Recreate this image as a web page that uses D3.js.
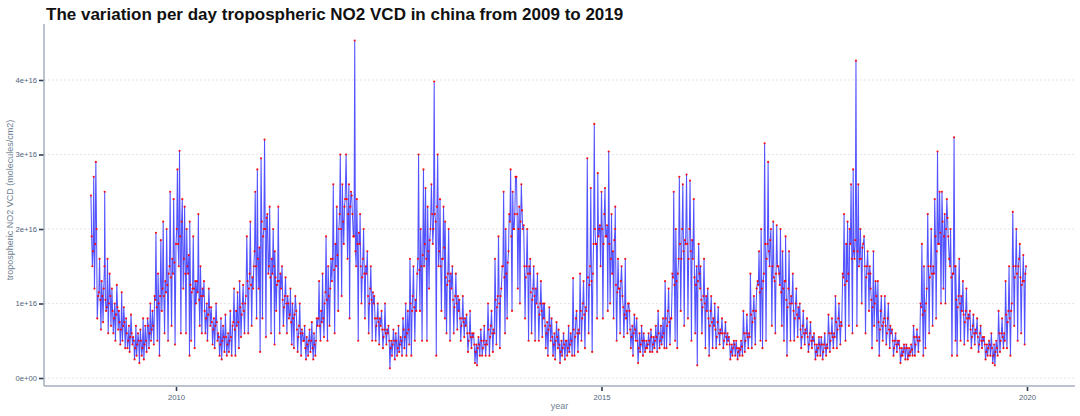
<!DOCTYPE html>
<html>
<head>
<meta charset="utf-8">
<script src="https://cdn.jsdelivr.net/npm/d3@7"></script>
<style>
  html, body { margin: 0; padding: 0; background: #ffffff; }
  svg { display: block; }
</style>
</head>
<body>
<svg id="chart" width="1080" height="416"></svg>
<script>
// ---- data (values in units of 1e16 molecules/cm2, ten readings per month) ----
const years = [2009, 2010, 2011, 2012, 2013, 2014, 2015, 2016, 2017, 2018, 2019];
const unit = 1e16;
const no2_2009 = [
  2.45,1.9,1.5,1.7,2.7,1.2,1.8,2.9,2.0,0.8,  1.1,1.15,1.6,1.05,0.65,1.3,1.1,0.75,1.2,1.5,
  2.5,1.05,0.9,0.95,1.6,0.6,1.0,1.4,1.1,0.7,  1.2,0.9,0.6,0.8,1.0,0.5,0.85,1.25,0.95,0.65,
  0.9,0.75,0.45,0.65,1.15,0.5,0.7,0.95,0.75,0.4,  0.8,0.6,0.4,0.5,0.7,0.35,0.55,0.85,0.6,0.45,
  0.55,0.5,0.25,0.4,0.7,0.3,0.45,0.6,0.5,0.2,  0.65,0.5,0.3,0.4,0.8,0.25,0.45,0.7,0.5,0.35,
  0.8,0.7,0.4,0.6,1.0,0.5,0.65,0.9,0.7,0.45,  1.1,1.05,1.95,0.95,0.5,1.4,1.0,0.3,1.1,1.85,
  0.9,1.2,2.1,1.1,0.6,1.3,1.15,2.0,1.25,0.5,  1.4,1.5,2.5,1.35,0.7,1.6,1.4,2.4,1.55,0.45];
const no2_2010 = [
  1.8,2.0,2.8,1.8,1.5,3.05,1.9,0.6,2.1,2.4,  1.2,1.6,2.3,1.4,0.6,2.0,1.5,1.4,1.65,0.3,
  2.1,1.25,0.5,1.15,1.2,1.9,1.2,0.4,1.3,1.0,  1.3,1.15,2.2,1.05,0.7,1.5,1.1,0.6,1.2,1.1,
  1.3,0.9,0.6,0.8,1.0,0.5,0.85,1.2,0.95,0.7,  0.95,0.75,0.45,0.65,0.8,0.4,0.7,1.0,0.75,0.5,
  0.6,0.55,0.3,0.45,0.8,0.25,0.5,0.7,0.55,0.35,  0.85,0.55,0.3,0.45,0.6,0.35,0.5,0.9,0.55,0.3,
  0.7,0.75,1.2,0.65,0.3,0.9,0.7,1.15,0.75,0.4,  1.3,0.95,0.55,0.85,1.0,1.25,0.9,0.6,1.0,1.1,
  1.9,1.3,0.6,1.2,1.4,2.1,1.25,0.7,1.35,1.2,  1.5,1.7,2.5,1.5,0.8,2.8,1.6,1.2,1.75,0.35];
const no2_2011 = [
  2.95,2.1,0.8,1.9,2.0,3.2,2.0,0.55,2.15,2.2,  1.4,1.5,2.3,1.35,0.6,1.6,1.4,2.0,1.5,0.45,
  1.7,1.35,0.9,1.25,1.3,2.3,1.3,0.6,1.4,1.2,  1.5,1.05,0.7,0.95,1.1,1.35,1.0,0.6,1.1,1.0,
  0.8,0.85,1.2,0.75,0.45,1.0,0.8,0.4,0.85,1.1,  0.9,0.65,0.35,0.55,0.7,1.0,0.6,0.3,0.65,0.6,
  0.5,0.5,0.7,0.4,0.25,0.55,0.45,0.3,0.5,0.65,  0.35,0.5,0.75,0.4,0.25,0.6,0.45,0.3,0.5,0.8,
  0.7,0.8,1.3,0.7,0.5,0.9,0.75,1.4,0.8,0.55,  1.0,1.15,1.9,1.05,0.5,1.5,1.1,0.7,1.2,1.6,
  1.3,1.6,2.6,1.45,0.6,1.8,1.5,2.3,1.65,0.9,  2.0,2.2,3.0,2.0,1.1,2.6,2.1,1.8,2.3,2.4];
const no2_2012 = [
  3.0,2.4,1.6,2.2,2.6,0.8,2.3,2.5,2.45,2.2,  1.9,1.9,4.53,1.7,1.5,2.4,1.8,0.5,1.95,1.8,
  2.2,1.5,1.0,1.35,1.6,2.0,1.4,0.8,1.5,1.4,  1.7,1.1,0.6,1.0,1.2,1.5,1.05,0.5,1.15,1.0,
  1.1,0.8,0.5,0.7,0.8,1.0,0.75,0.45,0.8,0.7,  0.9,0.65,0.4,0.55,0.65,1.0,0.6,0.45,0.65,0.6,
  0.7,0.5,0.13,0.4,0.5,0.3,0.45,0.65,0.5,0.25,  0.6,0.5,0.3,0.4,0.7,0.35,0.45,0.55,0.5,0.3,
  0.8,0.65,0.4,0.55,1.0,0.3,0.6,0.9,0.65,0.45,  1.6,1.0,0.3,0.9,1.1,1.5,0.95,0.5,1.05,0.9,
  1.4,1.6,3.0,1.45,0.9,2.0,1.5,0.5,1.65,2.8,  1.5,1.8,2.55,1.6,0.5,2.3,1.7,1.2,1.85,2.0];
const no2_2013 = [
  2.6,2.2,1.8,2.0,3.98,2.2,2.1,0.3,2.3,3.0,  1.5,1.7,2.4,1.5,0.9,1.6,1.6,2.3,1.75,0.8,
  2.1,1.35,0.6,1.25,1.4,2.0,1.3,0.5,1.4,1.2,  1.5,1.05,0.6,0.95,1.1,1.4,1.0,0.65,1.1,0.9,
  1.05,0.8,0.5,0.7,0.8,1.1,0.75,0.55,0.8,0.7,  0.85,0.6,0.35,0.5,0.6,0.9,0.55,0.4,0.6,0.55,
  0.6,0.45,0.2,0.35,0.45,0.17,0.4,0.55,0.45,0.3,  0.65,0.5,0.3,0.4,0.5,0.7,0.45,0.3,0.5,0.45,
  1.0,0.65,0.3,0.55,0.7,0.9,0.6,0.35,0.65,0.6,  1.6,1.05,0.45,0.95,1.1,1.9,1.0,0.4,1.1,1.2,
  1.5,1.5,2.5,1.35,0.6,2.0,1.4,0.8,1.55,1.7,  2.2,2.1,2.8,1.9,0.9,2.5,2.0,2.0,2.2,2.7];
const no2_2014 = [
  2.7,2.2,1.2,2.0,2.3,1.0,2.1,2.6,2.25,2.0,  2.05,1.5,0.8,1.35,1.5,2.0,1.4,0.5,1.5,1.4,
  1.6,1.15,0.6,1.05,1.2,1.5,1.1,0.5,1.2,1.0,  1.4,0.95,0.5,0.85,1.0,1.3,0.9,0.55,1.0,0.8,
  1.0,0.7,0.4,0.6,0.75,0.3,0.65,0.95,0.7,0.5,  0.8,0.55,0.3,0.45,0.6,0.25,0.5,0.75,0.55,0.4,
  0.65,0.45,0.2,0.35,0.5,0.3,0.4,0.6,0.45,0.25,  0.5,0.5,0.3,0.4,0.7,0.35,0.45,0.6,0.5,0.3,
  1.34,0.65,0.3,0.55,0.8,0.9,0.6,0.35,0.65,0.6,  1.4,0.9,0.5,0.8,1.0,1.3,0.85,0.4,0.95,0.9,
  2.95,1.35,0.6,1.25,1.5,2.55,1.3,0.35,1.4,1.8,  3.41,2.0,1.8,1.8,0.8,2.75,1.9,2.0,2.05,1.5];
const no2_2015 = [
  2.5,2.0,0.8,1.8,2.2,2.55,1.9,1.9,2.05,0.9,  3.04,1.8,1.0,1.6,2.2,1.4,1.7,0.8,1.85,2.0,
  2.3,1.25,0.5,1.15,1.6,1.2,1.2,0.6,1.3,1.5,  1.1,0.95,0.55,0.85,1.6,0.8,0.9,0.6,1.0,1.0,
  0.9,0.65,0.4,0.55,0.7,0.3,0.6,0.85,0.65,0.5,  0.8,0.5,0.2,0.4,0.6,0.35,0.45,0.7,0.5,0.3,
  0.6,0.5,0.35,0.4,0.5,0.4,0.45,0.6,0.5,0.35,  0.65,0.55,0.35,0.45,0.55,0.4,0.5,0.7,0.55,0.35,
  0.9,0.6,0.4,0.5,0.7,0.45,0.55,0.8,0.6,0.4,  1.3,0.8,0.4,0.7,0.9,1.2,0.75,0.45,0.8,0.8,
  1.4,1.35,2.5,1.25,0.5,2.0,1.3,0.4,1.4,1.6,  2.7,1.8,0.9,1.6,2.0,2.6,1.7,0.7,1.85,1.8];
const no2_2016 = [
  2.73,1.8,0.8,1.6,2.0,2.65,1.7,0.5,1.85,1.6,  2.4,1.35,0.6,1.25,1.5,0.17,1.3,1.8,1.4,1.2,
  1.5,1.05,0.6,0.95,1.1,1.6,1.0,0.4,1.1,0.9,  1.2,0.8,0.3,0.7,0.9,1.1,0.75,0.4,0.8,0.7,
  1.0,0.65,0.4,0.55,0.75,0.95,0.6,0.45,0.65,0.6,  0.8,0.6,0.4,0.5,0.6,0.75,0.55,0.45,0.6,0.5,
  0.55,0.45,0.25,0.35,0.45,0.3,0.4,0.5,0.45,0.3,  0.5,0.4,0.25,0.35,0.4,0.3,0.38,0.5,0.42,0.3,
  0.9,0.6,0.35,0.5,0.6,0.85,0.55,0.4,0.6,0.55,  1.4,0.85,0.4,0.75,0.9,1.1,0.8,0.45,0.9,1.2,
  1.3,1.25,1.7,1.15,0.5,2.0,1.2,0.4,1.3,1.4,  3.15,1.8,0.5,1.6,1.8,2.9,1.7,1.5,1.85,2.0];
const no2_2017 = [
  0.7,1.5,2.1,1.35,1.3,0.6,1.4,2.05,1.5,1.5,  1.4,1.25,2.0,1.15,0.7,1.7,1.2,0.5,1.3,1.3,
  1.9,1.05,0.3,0.95,1.2,1.7,1.0,0.5,1.1,1.0,  1.4,0.9,0.5,0.8,1.0,1.2,0.85,0.55,0.95,0.8,
  1.0,0.65,0.4,0.55,0.7,0.9,0.6,0.45,0.65,0.6,  0.8,0.55,0.35,0.45,0.6,0.75,0.5,0.4,0.55,0.5,
  0.6,0.45,0.25,0.35,0.45,0.3,0.4,0.55,0.45,0.3,  0.55,0.45,0.25,0.35,0.45,0.6,0.4,0.3,0.45,0.4,
  0.85,0.6,0.35,0.5,0.6,0.8,0.55,0.4,0.6,0.55,  1.1,0.75,0.4,0.65,0.8,1.0,0.7,0.45,0.75,0.7,
  1.4,1.35,2.2,1.25,0.5,1.8,1.3,2.1,1.4,0.7,  2.0,1.8,2.6,1.6,0.6,2.8,1.7,1.6,1.85,4.26];
const no2_2018 = [
  0.7,1.7,2.6,1.5,1.6,2.0,1.6,1.0,1.75,1.8,  1.9,1.5,0.6,1.35,1.5,1.7,1.4,0.9,1.5,1.4,
  1.2,1.05,0.4,0.95,1.7,0.7,1.0,1.3,1.1,0.5,  1.3,0.75,0.3,0.65,0.9,1.1,0.7,0.5,0.75,0.8,
  1.1,0.7,0.45,0.6,0.8,1.0,0.65,0.4,0.7,0.6,  0.65,0.5,0.3,0.4,0.5,0.6,0.45,0.35,0.5,0.45,
  0.5,0.4,0.2,0.3,0.4,0.3,0.35,0.45,0.4,0.25,  0.45,0.4,0.25,0.3,0.4,0.3,0.35,0.45,0.38,0.3,
  0.7,0.55,0.3,0.45,0.55,0.65,0.5,0.35,0.55,0.5,  1.0,0.95,1.8,0.85,0.3,1.5,0.9,0.4,1.0,1.2,
  2.2,1.5,0.6,1.35,1.5,2.0,1.4,0.7,1.5,1.4,  2.4,1.9,0.8,1.7,3.04,1.8,1.8,2.5,1.95,1.0];
const no2_2019 = [
  2.5,2.1,1.2,1.9,2.2,1.0,2.0,2.4,2.15,1.9,  1.6,1.5,2.0,1.35,0.3,1.4,1.4,3.23,1.5,0.5,
  1.5,1.05,0.3,0.95,1.1,1.6,1.0,0.5,1.1,0.9,  1.3,0.85,0.45,0.75,0.9,1.2,0.8,0.5,0.85,0.8,
  0.9,0.65,0.4,0.55,0.7,0.85,0.6,0.45,0.65,0.6,  0.8,0.55,0.35,0.45,0.6,0.7,0.5,0.4,0.55,0.5,
  0.55,0.45,0.25,0.35,0.45,0.3,0.4,0.5,0.45,0.3,  0.6,0.4,0.2,0.3,0.45,0.17,0.35,0.5,0.4,0.3,
  0.9,0.6,0.35,0.5,0.6,0.8,0.55,0.4,0.6,0.5,  1.3,0.85,0.4,0.75,0.9,1.5,0.8,0.3,0.9,1.0,
  2.23,1.5,0.7,1.35,1.5,2.0,1.4,0.5,1.5,1.6,  1.8,1.35,0.6,1.25,1.3,1.65,1.3,0.45,1.4,1.5];
const yearSeries = [no2_2009, no2_2010, no2_2011, no2_2012, no2_2013, no2_2014,
                    no2_2015, no2_2016, no2_2017, no2_2018, no2_2019];
const readingDays = [1, 4, 7, 10, 13, 16, 19, 22, 25, 28];
const yTickValues = [0, 1e16, 2e16, 3e16, 4e16];
const yTickLabels = ["0e+00", "1e+16", "2e+16", "3e+16", "4e+16"];
const xTickYears = [2010, 2015, 2020];
const titleText = "The variation per day tropospheric NO2 VCD in china from 2009 to 2019";
const xTitle = "year";
const yTitle = "tropospheric NO2 VCD (molecules/cm2)";

// ---- build records ----
const data = [];
years.forEach((yr, k) => {
  yearSeries[k].forEach((v, i) => {
    const month = Math.floor(i / readingDays.length);
    const day = readingDays[i % readingDays.length];
    data.push({ date: new Date(yr, month, day), value: v * unit });
  });
});

// ---- layout ----
const svg = d3.select("#chart");
const panel = { left: 44, right: 1075, top: 24, bottom: 386 };
const x = d3.scaleTime()
  .domain([new Date(2010, 0, 1), new Date(2020, 0, 1)])
  .range([176, 1027]);
const y = d3.scaleLinear().domain([0, 4e16]).range([378, 80]);

svg.append("rect").attr("width", 1080).attr("height", 416).attr("fill", "#ffffff");

// grid lines
svg.append("g").selectAll("line").data(yTickValues).join("line")
  .attr("x1", panel.left).attr("x2", panel.right)
  .attr("y1", d => y(d)).attr("y2", d => y(d))
  .attr("stroke", "#dedede").attr("stroke-width", 0.8)
  .attr("stroke-dasharray", "2,2");

// line + points
const line = d3.line().x(d => x(d.date)).y(d => y(d.value));
svg.append("path").datum(data)
  .attr("d", line)
  .attr("fill", "none")
  .attr("stroke", "#0000ff")
  .attr("stroke-opacity", 0.68)
  .attr("stroke-width", 1.05);

svg.append("g").selectAll("circle").data(data).join("circle")
  .attr("cx", d => x(d.date)).attr("cy", d => y(d.value))
  .attr("r", 1.1)
  .attr("fill", "#ff0000")
  .attr("fill-opacity", 0.9);

// axes
const axisColor = "#a4b0be";
const tickColor = "#2f3e4e";
const labelColor = "#52647a";

const yAxis = d3.axisLeft(y).tickValues(yTickValues)
  .tickFormat((d, i) => yTickLabels[i]).tickSize(5).tickPadding(2);
const gy = svg.append("g").attr("transform", `translate(${panel.left},0)`).call(yAxis);
gy.select(".domain").remove();
gy.selectAll(".tick line").attr("stroke", tickColor).attr("stroke-width", 1.6);
gy.selectAll(".tick text").attr("fill", labelColor)
  .style("font-family", "'Liberation Sans', Arial, sans-serif").style("font-size", "7.7px");

const xAxis = d3.axisBottom(x)
  .tickValues(xTickYears.map(yr => new Date(yr, 0, 1)))
  .tickFormat(d3.timeFormat("%Y")).tickSize(4).tickPadding(4);
const gx = svg.append("g").attr("transform", `translate(0,${panel.bottom + 1})`).call(xAxis);
gx.select(".domain").remove();
gx.selectAll(".tick line").attr("stroke", tickColor).attr("stroke-width", 1.6);
gx.selectAll(".tick text").attr("fill", labelColor)
  .style("font-family", "'Liberation Sans', Arial, sans-serif").style("font-size", "7.7px");

// axis lines
svg.append("line").attr("x1", panel.left).attr("x2", panel.left)
  .attr("y1", panel.top).attr("y2", panel.bottom)
  .attr("stroke", axisColor).attr("stroke-width", 1.5);
svg.append("line").attr("x1", panel.left).attr("x2", panel.right)
  .attr("y1", panel.bottom).attr("y2", panel.bottom)
  .attr("stroke", axisColor).attr("stroke-width", 1.5);

// titles
svg.append("text").attr("x", 46).attr("y", 20)
  .text(titleText)
  .attr("fill", "#111111")
  .style("font-family", "'Liberation Sans', Arial, sans-serif")
  .style("font-weight", "bold").style("font-size", "17px");

svg.append("text").attr("x", (panel.left + panel.right) / 2).attr("y", 409)
  .attr("text-anchor", "middle").text(xTitle)
  .attr("fill", "#6f7f93")
  .style("font-family", "'Liberation Sans', Arial, sans-serif").style("font-size", "9px");

svg.append("text")
  .attr("transform", "translate(13,200) rotate(-90)")
  .attr("text-anchor", "middle").text(yTitle)
  .attr("fill", "#6f7f93")
  .style("font-family", "'Liberation Sans', Arial, sans-serif").style("font-size", "9px");
</script>
</body>
</html>
